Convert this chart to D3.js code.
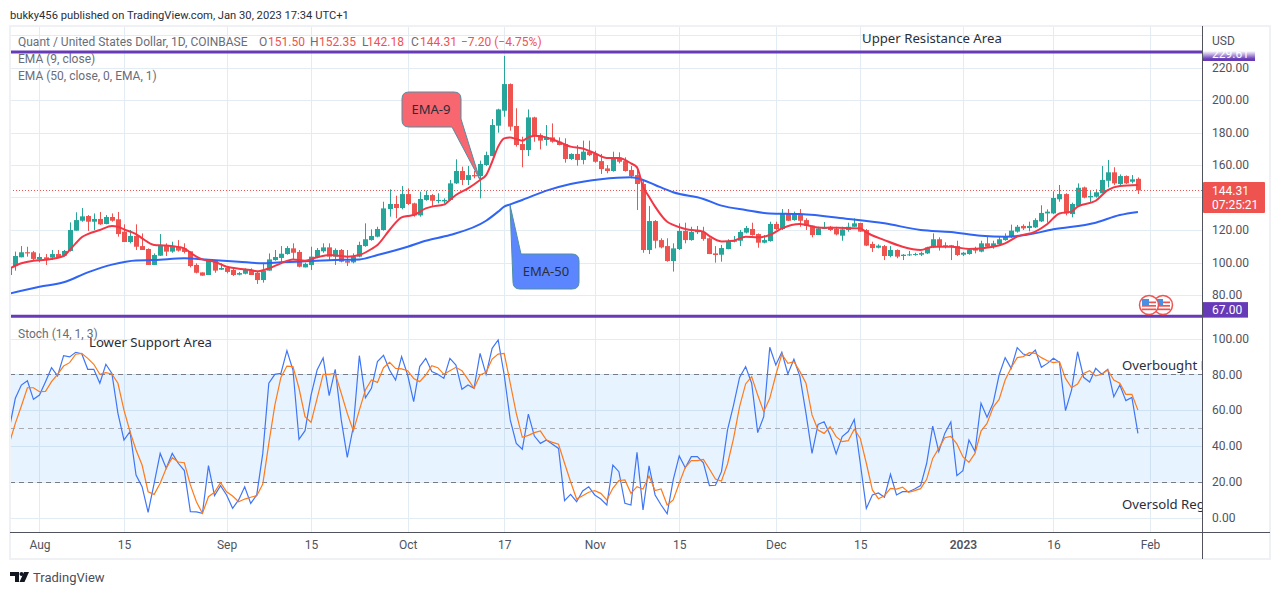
<!DOCTYPE html>
<html>
<head>
<meta charset="utf-8">
<script src="https://cdn.jsdelivr.net/npm/d3@7"></script>
<style>
  html, body { margin: 0; padding: 0; background: #fff; }
  svg { display: block; }
  text { font-family: Roboto, sans-serif; }
  .note { font-family: "Noto Sans", sans-serif; }
  .axis text { font-size: 12px; fill: #50535e; font-family: Roboto, sans-serif; }
</style>
</head>
<body>
<svg id="chart" width="1280" height="595"></svg>
<script>
const startDate = "2022-07-27";

const opens = [92.3,97.8,103.2,106.3,106.3,101.9,103.2,103.0,105.2,104.2,107.1,119.6,125.7,128.6,125.1,126.8,123.7,128.0,126.6,119.0,112.6,116.3,110.1,108.3,98.5,104.2,110.1,106.7,109.7,108.7,106.9,98.5,93.9,92.3,101.1,95.6,96.6,95.4,92.5,93.1,95.4,93.7,89.2,95.0,101.5,102.8,105.2,108.7,106.5,97.0,98.5,103.2,106.9,109.3,103.6,107.7,100.9,100.1,103.6,110.1,113.8,115.9,120.0,132.9,136.0,133.5,142.1,136.4,129.0,138.5,141.5,137.8,137.6,138.5,148.7,156.3,150.8,153.8,153.2,160.0,165.5,184.2,193.4,209.8,184.0,172.9,169.2,189.3,178.4,175.4,177.0,174.3,172.9,163.7,166.8,163.1,168.2,166.8,162.4,157.9,156.3,164.5,162.4,156.9,153.8,148.3,107.7,125.5,113.8,110.1,100.9,108.3,119.4,113.8,118.6,118.8,114.9,105.6,104.8,108.3,112.8,113.4,118.4,120.6,117.5,112.2,113.2,123.7,120.6,130.2,126.1,129.6,126.1,122.7,116.9,120.6,122.0,120.6,116.5,120.0,122.0,124.3,120.0,111.4,109.1,110.1,104.0,107.7,104.0,104.4,104.6,104.8,105.6,109.3,114.3,109.7,110.6,110.1,104.8,105.2,108.5,106.7,111.8,109.7,111.2,113.8,115.5,119.0,122.5,121.2,121.6,125.3,130.2,130.2,138.9,142.1,129.8,134.8,146.2,140.1,140.5,142.6,150.3,155.5,148.3,153.2,149.7,151.5];
const highs = [97.4,106.7,110.1,109.7,107.1,105.6,105.2,107.7,107.7,107.7,124.7,130.9,133.5,129.2,130.2,131.1,129.2,130.2,131.1,123.5,120.0,123.5,117.9,108.7,105.6,117.5,111.8,112.8,113.8,111.8,106.9,99.5,93.9,101.5,101.5,99.5,97.8,96.4,94.2,96.4,96.4,94.4,99.5,105.6,107.7,110.1,110.1,111.8,107.7,99.9,109.7,108.9,111.8,111.8,108.7,108.3,107.7,105.6,112.8,124.1,120.4,122.0,137.4,145.0,141.1,147.1,145.6,136.8,143.6,144.2,142.1,142.6,139.5,150.8,163.5,159.0,159.4,156.3,162.7,168.2,188.3,194.6,227.1,210.2,194.9,177.4,194.2,189.7,179.5,184.6,185.6,177.0,176.4,167.2,172.3,175.0,175.0,168.8,166.8,160.0,168.2,167.8,164.7,159.4,159.0,150.8,134.8,126.1,114.9,114.9,111.8,124.1,124.5,122.0,122.5,122.0,115.5,110.1,110.8,114.3,116.3,120.0,122.5,124.5,117.9,116.9,125.1,125.1,132.9,132.9,131.3,132.9,127.2,122.7,122.0,124.9,122.5,122.0,122.0,124.5,127.2,124.5,120.6,112.8,111.2,110.8,110.1,108.1,105.2,107.1,106.0,106.7,109.7,117.9,115.5,112.4,110.8,113.4,106.5,108.7,109.7,113.4,115.9,113.4,115.9,117.9,123.3,123.1,123.5,125.1,127.2,135.2,132.7,143.8,147.7,142.6,136.8,148.7,146.7,144.6,145.0,159.4,163.1,158.6,154.2,153.6,153.8,152.35];
const lows = [91.3,95.0,103.2,103.6,101.5,100.1,98.5,101.5,102.8,103.6,106.7,119.6,125.1,119.4,120.0,123.1,123.5,125.1,115.9,112.6,111.8,107.7,107.7,98.5,98.5,104.0,104.0,106.0,106.7,105.6,97.0,93.3,91.9,92.3,93.7,95.4,93.3,91.7,92.1,92.7,92.3,86.8,87.6,95.0,101.1,100.5,104.8,101.5,97.0,97.0,95.4,102.6,106.0,100.9,98.5,100.1,97.8,99.5,103.2,109.7,113.4,115.5,119.6,128.2,127.2,132.7,135.4,128.2,128.2,138.0,134.8,136.4,136.4,138.0,148.3,147.7,147.7,151.8,139.5,159.4,165.5,179.9,189.7,181.1,171.3,158.6,165.5,174.3,169.6,171.9,173.7,172.1,161.4,163.1,159.6,160.4,165.5,161.4,154.5,154.9,155.9,161.0,155.9,151.8,132.3,106.0,105.2,108.7,108.7,100.5,94.4,107.7,111.8,113.4,117.5,113.4,105.2,99.9,100.5,108.1,112.4,110.1,117.9,116.5,109.1,111.8,112.8,120.0,120.0,125.5,125.7,122.0,120.0,115.5,116.9,120.6,119.4,116.7,113.4,119.0,122.0,118.8,110.1,106.5,108.7,101.5,103.2,102.6,101.5,104.0,104.2,104.0,105.2,108.9,107.3,108.7,101.5,104.0,104.0,104.8,105.6,106.3,109.3,108.5,110.8,113.4,115.1,118.4,120.0,119.2,121.2,124.9,124.5,129.8,137.4,129.0,127.8,134.4,139.5,136.8,139.9,142.6,146.2,147.7,147.7,148.3,148.7,142.18];
const closes = [96.4,104.0,106.3,105.6,102.2,103.4,101.9,105.2,103.2,107.1,120.0,126.1,128.4,125.1,126.8,123.5,128.0,125.7,117.5,112.6,116.3,109.7,107.7,98.5,104.6,110.8,106.7,110.1,107.3,106.5,97.8,93.7,91.9,101.1,95.0,96.6,94.2,92.3,93.5,95.4,92.3,89.2,95.0,101.9,103.4,105.4,108.9,106.0,97.4,99.1,103.6,107.7,109.3,103.6,107.7,100.5,99.9,103.6,110.8,114.3,116.3,120.6,133.3,136.0,133.5,142.1,136.0,129.0,139.1,141.5,138.0,138.5,138.5,148.7,156.3,150.8,153.8,153.0,160.6,166.1,184.6,194.2,209.8,183.6,172.3,169.2,189.3,177.8,175.0,177.0,174.3,172.3,163.7,166.8,163.1,168.2,166.1,162.0,157.5,156.3,164.1,162.0,156.3,153.2,148.3,107.7,125.5,113.4,109.3,100.9,108.7,119.4,113.8,118.8,119.4,114.5,105.2,104.6,108.9,112.8,113.4,118.8,121.2,116.9,112.2,113.8,123.7,120.6,130.2,125.7,129.8,125.7,122.5,116.9,121.0,121.2,120.0,117.3,120.4,122.0,124.1,119.0,110.4,108.9,110.4,104.0,107.7,103.6,104.8,105.0,105.2,105.8,109.3,114.3,109.7,110.6,109.7,104.6,106.0,107.7,107.3,111.8,109.7,111.8,114.3,116.3,119.6,122.0,121.0,122.5,126.1,130.5,131.3,139.7,142.1,130.2,136.0,146.0,139.9,140.9,143.2,150.8,155.5,148.7,153.2,148.7,151.2,144.31];

const ema9Bars = [0,2,4,6,9,10,11,12,13,15,17,18,19,21,22,24,26,29,30,31,32,34,36,38,40,41,43,45,47,49,51,53,56,58,60,61,63,65,66,67,69,70,72,73,74,76,78,79,80,81,82,83,84,85,86,87,89,91,93,95,97,99,101,103,104,105,106,107,109,110,112,115,116,118,120,122,124,126,128,131,134,139,141,142,145,148,151,153,156,159,163,165,167,170,172,174,176,177,180,182,184,187];
const ema9 = [96.2,99.5,101.1,101.7,104.0,107.7,111.8,115.5,117.5,120.0,122.5,122.0,120.4,117.5,114.9,110.8,110.4,108.7,106.0,103.6,101.9,100.5,97.4,96.2,95.4,94.6,96.4,99.5,101.9,101.1,103.2,104.6,103.6,104.6,108.3,110.8,120.0,127.8,128.6,129.2,133.3,134.4,135.6,138.5,141.5,145.6,150.8,153.8,162.0,171.3,176.4,177.0,176.0,175.0,177.0,178.0,177.0,174.3,171.3,170.2,167.2,164.3,164.3,161.0,158.6,146.7,140.5,134.4,125.1,123.1,120.6,119.0,116.3,113.0,113.4,115.9,115.5,116.9,121.0,123.7,121.6,121.2,121.0,118.6,113.8,109.7,107.7,109.7,109.7,108.3,109.7,111.8,115.9,119.0,123.7,130.2,131.3,134.4,138.0,144.6,147.1,147.7];

const ema50Bars = [0,5,9,13,17,21,24,29,33,38,42,45,49,54,58,61,66,69,73,79,81,82,83,85,89,93,98,103,105,107,110,115,118,122,126,131,139,145,151,156,161,165,168,173,180,184,187];
const ema50 = [80.8,85.1,87.8,93.9,98.7,101.3,101.5,102.6,101.7,100.5,99.5,100.1,100.7,101.5,101.9,104.6,109.7,113.4,116.9,125.7,131.3,134.4,135.8,138.5,144.2,148.3,151.2,152.4,150.8,147.7,143.2,139.1,135.0,132.3,130.2,129.8,126.8,124.1,120.0,118.8,116.5,115.9,116.7,120.4,124.5,129.2,131.1];

const stochK = [49.8,66.6,74,76.4,66,68.4,75.9,83.7,79.1,90.4,89.7,92.3,91.5,82.8,82.8,75,85.6,80.5,58.2,43.3,48,23.7,17.2,2.9,19.1,35.8,27.5,35.8,30.3,26.2,3.3,3.1,2.3,29,12.2,17.8,12.6,5.1,9.8,17.2,7.9,12.6,35.8,75,80,80.5,93.2,82.4,43.7,48.5,68.4,82.4,89.1,68.1,82.8,54.5,33.6,50.7,90.4,66.9,72.2,87.1,90.6,82.4,76.8,89.9,79.6,64.7,84.3,88.9,81.5,80,77.7,88.9,85.2,71.6,74,72.2,91.7,80,94.5,99.2,79.6,54.5,41.4,38.1,57.8,45.5,41.4,43.3,40.9,38.6,9.4,12.9,8.8,14.8,17.2,12.6,10.3,7,29.3,25.6,7.9,7,36.4,4.2,28.8,12.6,7,2.1,21,34.4,27.8,34,34,30.6,17.8,18,25.6,48.9,62.8,78.3,84.3,75,47.4,56.3,95.1,85.2,92.3,80.2,88.4,78.7,58.2,35.8,52,53.5,46.1,35.5,45.2,48,54.8,30.3,5.1,12.6,13.7,11.3,24.1,12.6,14.4,14.4,15.9,17.8,30.3,51.1,36.8,47,53.4,23.4,26.2,43.3,36.8,63.8,56,63.8,79.6,89.3,83.3,94.9,91.3,90.4,93.6,83.9,86.1,88.9,86.7,59.7,71.2,92.6,78.3,75.7,83.3,80,82.8,67.5,74,65.3,67.1,47];
const stochD = [41.4,52.6,62.3,72.5,72.5,70.3,70.5,75.9,80,84.6,86.5,91.2,91.7,88.9,85.6,80,80.9,80.2,75,60,48,37.7,29.3,14.4,12.9,19.1,27.5,33.4,31,30.6,18.2,8.8,2.3,11.6,14.1,19.5,14.4,12,8.8,10.3,11.3,12.2,18.7,41.4,62.8,78.3,84.6,84.3,72.2,56.3,53.2,66.6,80,80,80.5,69.4,58.2,48.3,60,71.2,76.8,75.5,83.7,86.7,83.3,83,82,77.7,75.9,79.6,84.8,83.7,80,82,83.9,82,77.2,72.2,79.6,81.1,88.5,91.3,91.7,75,58.2,44.8,45.9,47.4,48.3,43.3,42,40.9,30.3,20,10.3,12.2,14.1,15,13.5,9.8,16.3,20.6,21,13.5,17.2,15.9,23.2,15,15.9,7,9.8,19.1,28,31.8,31.8,32.5,27.1,21.5,20.4,29.9,44.2,61.9,74.6,78.7,68.4,59.1,66.6,79.6,91.2,86.1,87.1,81.5,75,57.3,48.9,47,50.7,45.2,42.4,42.9,49.3,44.2,30.3,15.4,10.5,12.2,16.3,15.9,17,14.1,15,16.1,21.3,33,38.6,44.6,45.3,41.1,34,30.8,35.8,48.3,52.6,61.5,66,76.8,83.7,89.3,89.9,92.1,91.7,89.3,87.6,86.5,87.1,77.7,72.5,74.6,80.5,82,79.1,80,82.4,76.8,75,68.8,68.8,60];

const priceTicks = [80,100,120,140,160,180,200,220,240];
const priceLabels = [80,100,120,160,180,200,220]; // 140 hidden behind the last price tag
const stochTicks = [0,20,40,60,80,100];
const dateTicks = ["2022-08-01","2022-08-15","2022-09-01","2022-09-15","2022-10-01","2022-10-17","2022-11-01","2022-11-15","2022-12-01","2022-12-15","2023-01-01","2023-01-16","2023-02-01"];
const dateLabels = ["Aug","15","Sep","15","Oct","17","Nov","15","Dec","15","2023","16","Feb"];

const resistance = 229.61;
const support = 67;
const lastClose = 144.31;

const purple = "#673ab7";
const green = "#26a69a";
const red = "#ef5350";
const gridColor = "#e3ecf3";

const svg = d3.select("#chart");
const barTime = (i) => d3.utcDay.offset(new Date(startDate), i);

const xScale = d3.scaleUtc()
  .domain([new Date(startDate), new Date("2023-02-01")])
  .range([9.3, 1150]);
const yPrice = d3.scaleLinear().domain([80, 220]).range([295, 67.5]);
const yStoch = d3.scaleLinear().domain([0, 100]).range([517.5, 338.5]);
const xBar = (i) => Math.round(xScale(barTime(i)));

const defs = svg.append("defs");
defs.append("clipPath").attr("id", "plot")
  .append("rect").attr("x", 10).attr("y", 26).attr("width", 1192).attr("height", 506);
defs.append("clipPath").attr("id", "tag")
  .append("rect").attr("x", 1203).attr("y", 51).attr("width", 52).attr("height", 10);
const fade = defs.append("linearGradient").attr("id", "fade")
  .attr("x1", 0).attr("x2", 0).attr("y1", 0).attr("y2", 1);
fade.append("stop").attr("offset", 0).attr("stop-color", "#fff");
fade.append("stop").attr("offset", 0.8).attr("stop-color", purple);

// publish line
svg.append("text").attr("x", 10).attr("y", 19)
  .attr("font-size", 11.2).attr("fill", "#2a2e39")
  .text("bukky456 published on TradingView.com, Jan 30, 2023 17:34 UTC+1");

const plot = svg.append("g").attr("clip-path", "url(#plot)");

// grid
plot.selectAll(".vgrid").data(dateTicks).enter().append("line")
  .attr("x1", (d) => Math.round(xScale(new Date(d))) + 0.5)
  .attr("x2", (d) => Math.round(xScale(new Date(d))) + 0.5)
  .attr("y1", 26).attr("y2", 532)
  .attr("stroke", gridColor);
plot.selectAll(".pgrid").data(priceTicks).enter().append("line")
  .attr("x1", 10).attr("x2", 1202)
  .attr("y1", (d) => Math.round(yPrice(d)) + 0.5)
  .attr("y2", (d) => Math.round(yPrice(d)) + 0.5)
  .attr("stroke", gridColor);
plot.selectAll(".sgrid").data(stochTicks).enter().append("line")
  .attr("x1", 10).attr("x2", 1202)
  .attr("y1", (d) => Math.round(yStoch(d)) + 0.5)
  .attr("y2", (d) => Math.round(yStoch(d)) + 0.5)
  .attr("stroke", gridColor);

// candles
const candles = plot.selectAll(".candle").data(d3.range(opens.length)).enter().append("g");
candles.append("line")
  .attr("x1", (i) => xBar(i) + 0.5).attr("x2", (i) => xBar(i) + 0.5)
  .attr("y1", (i) => yPrice(highs[i])).attr("y2", (i) => yPrice(lows[i]))
  .attr("stroke", (i) => (closes[i] < opens[i] ? red : green));
candles.append("rect")
  .attr("x", (i) => xBar(i) - 2)
  .attr("width", 5)
  .attr("y", (i) => yPrice(Math.max(opens[i], closes[i])))
  .attr("height", (i) => Math.max(1, Math.abs(yPrice(opens[i]) - yPrice(closes[i]))))
  .attr("fill", (i) => (closes[i] < opens[i] ? red : green));

// last price
plot.append("line")
  .attr("x1", 10).attr("x2", 1202)
  .attr("y1", yPrice(lastClose)).attr("y2", yPrice(lastClose))
  .attr("stroke", red).attr("stroke-dasharray", "1,2");

// EMAs
const emaLine = (bars, values) => d3.line()
  .x((d, k) => xScale(barTime(bars[k])))
  .y((d) => yPrice(d))
  .curve(d3.curveMonotoneX)(values);
plot.append("path").attr("d", emaLine(ema50Bars, ema50))
  .attr("fill", "none").attr("stroke", "#2f64f5").attr("stroke-width", 2);
plot.append("path").attr("d", emaLine(ema9Bars, ema9))
  .attr("fill", "none").attr("stroke", "#f23645").attr("stroke-width", 2);

// purple levels
[resistance, support].forEach((v) => {
  plot.append("line").attr("x1", 10).attr("x2", 1202)
    .attr("y1", yPrice(v)).attr("y2", yPrice(v))
    .attr("stroke", purple).attr("stroke-width", 3);
});

// stochastic pane
plot.append("rect")
  .attr("x", 10).attr("width", 1192)
  .attr("y", yStoch(80)).attr("height", yStoch(20) - yStoch(80))
  .attr("fill", "#2196f3").attr("fill-opacity", 0.11);
[[80, "#787b86"], [50, "#a9acb5"], [20, "#787b86"]].forEach(([v, c]) => {
  plot.append("line").attr("x1", 10).attr("x2", 1202)
    .attr("y1", Math.round(yStoch(v)) + 0.5).attr("y2", Math.round(yStoch(v)) + 0.5)
    .attr("stroke", c).attr("stroke-dasharray", "5,4");
});
const stochLine = d3.line().x((d, i) => xScale(barTime(i))).y((d) => yStoch(d));
plot.append("path").attr("d", stochLine(stochK))
  .attr("fill", "none").attr("stroke", "#3f76f6").attr("stroke-width", 1.2);
plot.append("path").attr("d", stochLine(stochD))
  .attr("fill", "none").attr("stroke", "#ff7a1a").attr("stroke-width", 1.2);

// callouts
const callout = (path, fill, label, lx, ly) => {
  plot.append("path").attr("d", path)
    .attr("fill", fill).attr("stroke", "#4f8fa3").attr("stroke-width", 1);
  plot.append("text").attr("class", "note").attr("x", lx).attr("y", ly)
    .attr("text-anchor", "middle").attr("font-size", 13).attr("fill", "#2a2e39")
    .text(label);
};
callout("M409,92H454Q461,92 461,99V119L480,180L452,127H409Q402,127 402,120V99Q402,92 409,92Z",
  "#f8676f", "EMA-9", 431, 114);
callout("M510,205L521,254H572Q579,254 579,261V282Q579,289 572,289H520Q513,289 513,282Z",
  "#5c86ff", "EMA-50", 546, 276);

// text notes
const note = (t, x, y) => plot.append("text").attr("class", "note").attr("x", x).attr("y", y)
  .attr("font-size", 13.2).attr("fill", "#2a2e39").text(t);
note("Upper Resistance Area", 862, 43);
note("Lower Support Area", 89, 347);
note("Overbought R", 1122, 370);
note("Oversold Reg", 1122, 509);

// legends
const legend = (t, x, y, c) => svg.append("text").attr("x", x).attr("y", y)
  .attr("font-size", 12).attr("fill", c).text(t);
legend("Quant / United States Dollar, 1D, COINBASE", 18, 46, "#6a6d78");
legend("O", 259, 46, "#6a6d78");
legend("151.50", 268, 46, red);
legend("H", 310, 46, "#6a6d78");
legend("152.35", 319, 46, red);
legend("L", 362, 46, "#6a6d78");
legend("142.18", 367, 46, red);
legend("C", 411, 46, "#6a6d78");
legend("144.31", 420, 46, red);
legend("−7.20 (−4.75%)", 461, 46, red);
legend("EMA (9, close)", 18, 63, "#6a6d78");
legend("EMA (50, close, 0, EMA, 1)", 18, 80, "#6a6d78");
legend("Stoch (14, 1, 3)", 18, 338, "#6a6d78");

// flags
[1163, 1149].forEach((cx) => {
  const g = svg.append("g");
  g.append("circle").attr("cx", cx).attr("cy", 305).attr("r", 9.5)
    .attr("fill", "#fff").attr("stroke", "#ef5350").attr("stroke-width", 1.5);
  d3.range(3).forEach((k) => {
    g.append("rect").attr("x", cx - 7).attr("y", 301.5 + k * 3.5).attr("width", 14).attr("height", 1.7)
      .attr("fill", "#ef5350");
  });
  g.append("rect").attr("x", cx - 7).attr("y", 299).attr("width", 7).attr("height", 6).attr("fill", "#4a90e2");
});

// axes
const priceAxis = d3.axisRight(yPrice).tickValues(priceLabels)
  .tickSize(0).tickPadding(10).tickFormat(d3.format(".2f"));
svg.append("g").attr("class", "axis").attr("transform", "translate(1202,0)").call(priceAxis)
  .call((g) => g.select(".domain").remove());
const stochAxis = d3.axisRight(yStoch).tickValues(stochTicks)
  .tickSize(0).tickPadding(10).tickFormat(d3.format(".2f"));
svg.append("g").attr("class", "axis").attr("transform", "translate(1202,0)").call(stochAxis)
  .call((g) => g.select(".domain").remove());
const timeAxis = d3.axisBottom(xScale)
  .tickValues(dateTicks.map((d) => new Date(d)))
  .tickSize(0).tickPadding(8)
  .tickFormat((d, i) => dateLabels[i]);
svg.append("g").attr("class", "axis").attr("transform", "translate(0,532)").call(timeAxis)
  .call((g) => g.select(".domain").remove())
  .call((g) => g.selectAll("text").filter((d, i) => dateLabels[i] === "2023").attr("font-weight", 600));

svg.append("text").attr("x", 1212).attr("y", 45).attr("font-size", 12).attr("fill", "#50535e").text("USD");

// price tags
svg.append("rect").attr("x", 1203).attr("y", 51).attr("width", 52).attr("height", 10).attr("fill", "url(#fade)");
svg.append("text").attr("x", 1212).attr("y", 58).attr("font-size", 12).attr("fill", "#fff")
  .attr("clip-path", "url(#tag)").text(resistance.toFixed(2));
svg.append("rect").attr("x", 1203).attr("y", yPrice(support) - 14).attr("width", 45).attr("height", 15.5).attr("fill", purple);
svg.append("text").attr("x", 1212).attr("y", yPrice(support) - 1.8).attr("font-size", 12).attr("fill", "#fff")
  .text(support.toFixed(2));
svg.append("rect").attr("x", 1203).attr("y", 182).attr("width", 62).attr("height", 31).attr("rx", 1).attr("fill", red);
svg.append("text").attr("x", 1212).attr("y", 195).attr("font-size", 12).attr("fill", "#fff").text(lastClose.toFixed(2));
svg.append("text").attr("x", 1212).attr("y", 209).attr("font-size", 12).attr("fill", "#fff").text("07:25:21");

// frame
svg.append("rect").attr("x", 10).attr("y", 26).attr("width", 1260).attr("height", 533)
  .attr("fill", "none").attr("stroke", "#eff1f4").attr("stroke-width", 2);
svg.append("line").attr("x1", 10).attr("x2", 1270).attr("y1", 532.5).attr("y2", 532.5).attr("stroke", "#50535e");
svg.append("line").attr("x1", 1202.5).attr("x2", 1202.5).attr("y1", 26).attr("y2", 559).attr("stroke", "#50535e");

// footer logo
const logo = svg.append("g").attr("fill", "#131722");
logo.append("path").attr("d", "M10,572H19V582H15V576H10Z");
logo.append("circle").attr("cx", 21.5).attr("cy", 574).attr("r", 2);
logo.append("path").attr("d", "M24,572H29L24.5,582H19.5Z");
svg.append("text").attr("x", 33).attr("y", 582).attr("font-size", 13).attr("fill", "#4a4e59").text("TradingView");
</script>
</body>
</html>
